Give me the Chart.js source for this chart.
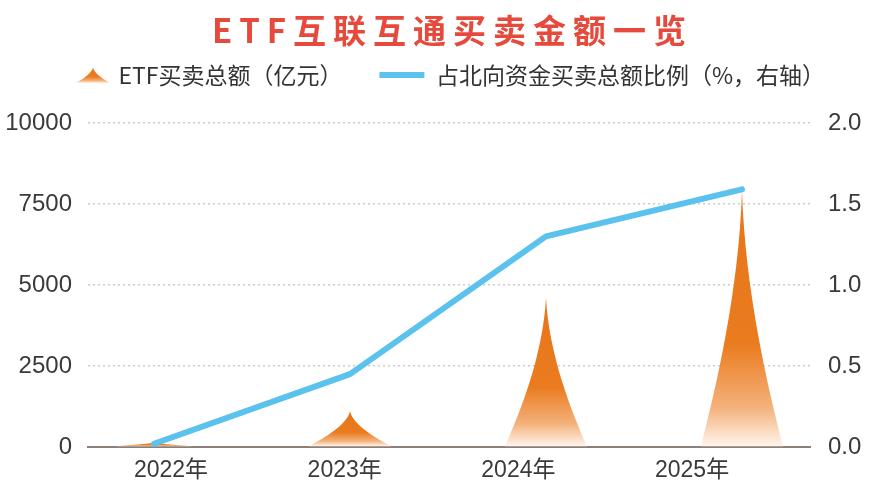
<!DOCTYPE html>
<html>
<head>
<meta charset="utf-8">
<script src="https://cdn.jsdelivr.net/npm/chart.js@4.4.1/dist/chart.umd.min.js"></script>
<style>
html,body{margin:0;padding:0;background:#fff;}
#wrap{position:relative;width:881px;height:490px;overflow:hidden;background:#fff;}
#c{position:absolute;left:0;top:0;}
#title{position:absolute;left:0;top:9px;width:881px;height:40px;line-height:40px;text-align:center;
  font-family:'Noto Sans CJK SC',sans-serif;font-weight:700;font-size:33px;color:#e64a3d;
  letter-spacing:7px;padding-left:24px;box-sizing:border-box;white-space:nowrap;}
</style>
</head>
<body>
<div id="wrap">
  <canvas id="c" width="881" height="490"></canvas>
  <div id="title"></div>
</div>
<script>
// ---- data ----
const chartTitle = 'ETF互联互通买卖金额一览';
const years = ['2022年', '2023年', '2024年', '2025年'];
const etfAmount = [150, 1100, 4600, 7900];          // 亿元 (left axis)
const northboundShare = [0.02, 0.45, 1.30, 1.59];   // % (right axis)
const seriesNames = ['ETF买卖总额（亿元）', '占北向资金买卖总额比例（%，右轴）'];

document.getElementById('title').textContent = chartTitle;

Chart.defaults.font.family = "'Liberation Sans','Noto Sans CJK SC',sans-serif";
Chart.defaults.color = '#3a3a3a';

function spikeGradient(ctx, top, base) {
  const g = ctx.createLinearGradient(0, top, 0, base);
  g.addColorStop(0, '#e8761a');
  g.addColorStop(0.6, '#ea7b1f');
  g.addColorStop(0.85, '#f4b27c');
  g.addColorStop(1, '#fff5ec');
  return g;
}
function drawSpike(ctx, cx, top, base, hw) {
  const h = base - top;
  if (h <= 0) return;
  ctx.beginPath();
  ctx.moveTo(cx - hw, base);
  ctx.bezierCurveTo(cx - hw * 0.65, base - h * 0.22, cx - hw * 0.08, base - h * 0.6, cx, top);
  ctx.bezierCurveTo(cx + hw * 0.08, base - h * 0.6, cx + hw * 0.65, base - h * 0.22, cx + hw, base);
  ctx.closePath();
  ctx.fillStyle = spikeGradient(ctx, top, base);
  ctx.fill();
}
function makeIcon() {
  const c = document.createElement('canvas');
  c.width = 51; c.height = 16;
  const x = c.getContext('2d');
  drawSpike(x, 34, 0.5, 16, 17);
  return c;
}

const spikePlugin = {
  id: 'spikes',
  beforeDatasetDraw(chart, args) {
    if (args.meta.type !== 'bar') return;
    const ctx = chart.ctx;
    ctx.save();
    args.meta.data.forEach(el => {
      const p = el.getProps(['x', 'y', 'base', 'width'], true);
      drawSpike(ctx, p.x, p.y, p.base, p.width / 2);
    });
    ctx.restore();
    return false;
  }
};

new Chart(document.getElementById('c'), {
  type: 'bar',
  data: {
    datasets: [
      {
        type: 'bar',
        label: seriesNames[0],
        data: etfAmount.map((v, i) => ({ x: i, y: v })),
        xAxisID: 'x', yAxisID: 'y',
        barThickness: 82,
        backgroundColor: '#e8761a',
        pointStyle: makeIcon(),
        order: 2
      },
      {
        type: 'line',
        label: seriesNames[1],
        data: northboundShare.map((v, i) => ({ x: i, y: v })),
        xAxisID: 'x', yAxisID: 'y1',
        borderColor: '#5bc2ee',
        backgroundColor: '#5bc2ee',
        borderWidth: 6,
        pointRadius: 0,
        pointStyle: 'line',
        borderCapStyle: 'round',
        borderJoinStyle: 'round',
        tension: 0,
        order: 1
      }
    ]
  },
  options: {
    responsive: false,
    animation: false,
    devicePixelRatio: 1,
    events: [],
    layout: { padding: { top: 26.5, left: 6, right: 0, bottom: 0 } },
    plugins: {
      legend: {
        position: 'top',
        align: 'center',
        labels: {
          usePointStyle: true,
          pointStyleWidth: 45,
          padding: 37,
          color: '#333333',
          font: { size: 23, family: "'Noto Sans CJK SC',sans-serif" },
          sort: (a, b) => a.datasetIndex - b.datasetIndex
        }
      },
      tooltip: { enabled: false },
      title: { display: false }
    },
    scales: {
      x: {
        type: 'linear', position: 'top', min: -0.3367, max: 3.347,
        offset: false, bounds: 'data',
        ticks: { display: false },
        grid: { display: false, drawTicks: false, offset: false },
        border: { display: false },
        afterFit: s => { s.height = 26.5; }
      },
      x2: {
        type: 'linear', position: 'bottom', min: -0.478, max: 3.679,
        offset: false, bounds: 'data',
        grid: { display: false, drawTicks: false, offset: false },
        border: { display: true, color: '#8b7f79', width: 2 },
        afterBuildTicks: s => { s.ticks = years.map((_, i) => ({ value: i })); },
        ticks: {
          autoSkip: false, maxRotation: 0, padding: 10,
          font: { size: 23 }, color: '#3a3a3a',
          callback: v => years[Math.round(v)]
        },
        afterFit: s => { s.height = 43; }
      },
      y: {
        position: 'left', min: 0, max: 10000,
        ticks: { stepSize: 2500, padding: 16, font: { size: 24 }, color: '#3a3a3a', callback: v => String(v) },
        grid: {
          drawTicks: false, lineWidth: 1.5,
          color: c => (c.tick && c.tick.value === 0) ? 'rgba(0,0,0,0)' : '#cccccc'
        },
        border: { display: false, dash: [2, 3] },
        afterFit: s => { s.width = 82; }
      },
      y1: {
        position: 'right', min: 0, max: 2,
        ticks: { stepSize: 0.5, padding: 18, font: { size: 24 }, color: '#3a3a3a', callback: v => v.toFixed(1) },
        grid: { drawOnChartArea: false, drawTicks: false },
        border: { display: false },
        afterFit: s => { s.width = 71; }
      }
    }
  },
  plugins: [spikePlugin]
});
</script>
</body>
</html>
